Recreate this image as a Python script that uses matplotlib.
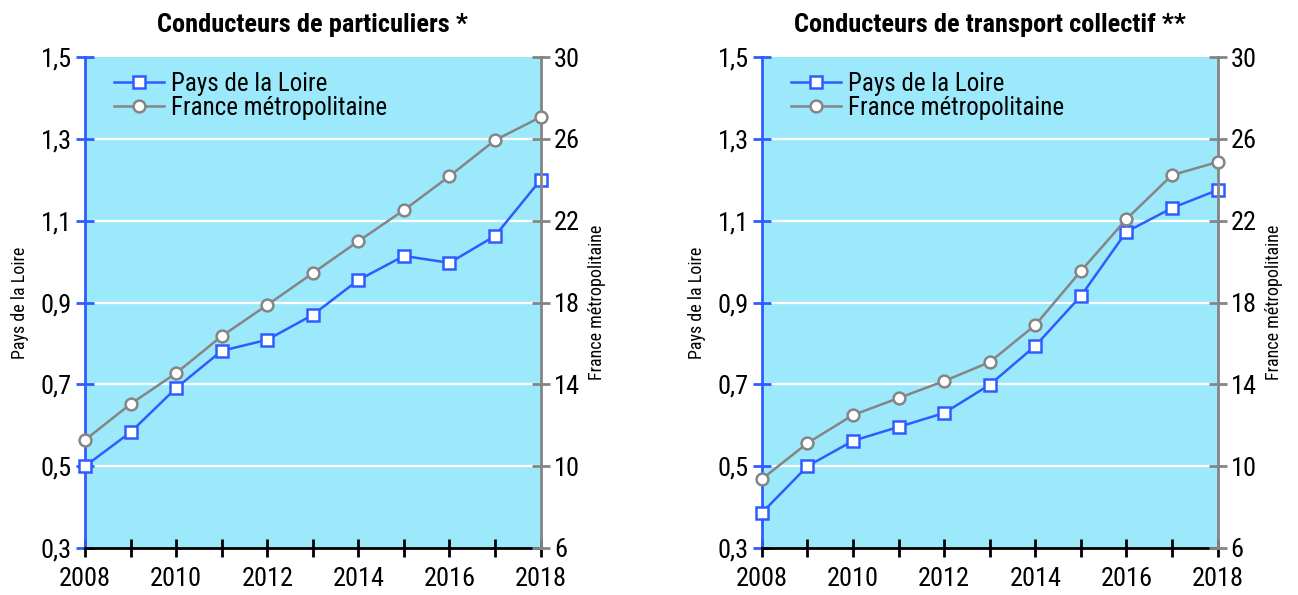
import numpy as np
import matplotlib
matplotlib.use("Agg")
import matplotlib.pyplot as plt

plt.rcParams['font.family'] = ['Roboto Condensed', 'DejaVu Sans']

# data
years = list(range(2008, 2019))
titles = ["Conducteurs de particuliers *", "Conducteurs de transport collectif **"]
pdl_part = [0.500, 0.583, 0.691, 0.782, 0.809, 0.870, 0.955, 1.014, 0.997, 1.063, 1.200]
fr_part = [11.28, 13.04, 14.55, 16.36, 17.88, 19.44, 21.00, 22.52, 24.18, 25.94, 27.07]
pdl_coll = [0.386, 0.500, 0.562, 0.596, 0.630, 0.699, 0.794, 0.916, 1.073, 1.131, 1.175]
fr_coll = [9.37, 11.13, 12.50, 13.33, 14.16, 15.09, 16.90, 19.54, 22.08, 24.23, 24.87]
left_ticks = [0.3, 0.5, 0.7, 0.9, 1.1, 1.3, 1.5]
right_ticks = [6, 10, 14, 18, 22, 26, 30]

blue = "#2f5cff"
grey = "#858585"
bg = "#9de9fc"

fig = plt.figure(figsize=(12.98, 5.95), dpi=100)
lefts = [0.0655, 0.587]
panels = [(pdl_part, fr_part), (pdl_coll, fr_coll)]

for i, (pdl, fr) in enumerate(panels):
    ax = fig.add_axes([lefts[i], 0.079, 0.351, 0.825])
    ax2 = ax.twinx()
    ax.set_facecolor(bg)
    ax.set_xlim(2008, 2018)
    ax.set_ylim(0.3, 1.5)
    ax2.set_ylim(6, 30)

    for y in left_ticks[1:-1]:
        ax.axhline(y, color="white", lw=1.6, zorder=1)

    l1, = ax.plot(years, pdl, color=blue, lw=1.8, marker="s", ms=8.5,
                  mfc="white", mec=blue, mew=1.8, clip_on=False, zorder=5,
                  label="Pays de la Loire")
    l2, = ax2.plot(years, fr, color=grey, lw=1.8, marker="o", ms=8.5,
                   mfc="white", mec=grey, mew=1.8, clip_on=False, zorder=5,
                   label="France métropolitaine")

    ax.set_yticks(left_ticks)
    ax.set_yticklabels([("%.1f" % v).replace(".", ",") for v in left_ticks])
    ax2.set_yticks(right_ticks)
    ax2.set_yticklabels([str(v) for v in right_ticks])
    ax.set_xticks(years)
    ax.set_xticklabels([str(y) if y % 2 == 0 else "" for y in years])

    for s in ["top", "right"]:
        ax.spines[s].set_visible(False)
    ax2.spines["top"].set_visible(False)
    ax2.spines["left"].set_visible(False)
    ax2.spines["bottom"].set_visible(False)
    ax.spines["left"].set_color(blue)
    ax.spines["left"].set_linewidth(2)
    ax2.spines["right"].set_color(grey)
    ax2.spines["right"].set_linewidth(2)
    ax.spines["bottom"].set_color("black")
    ax.spines["bottom"].set_linewidth(2)

    ax.tick_params(axis="y", direction="inout", length=13, width=2, color=blue,
                   labelsize=19, pad=3)
    ax2.tick_params(axis="y", direction="inout", length=13, width=2, color=grey,
                    labelsize=19, pad=3)
    ax.tick_params(axis="x", direction="inout", length=13, width=2, color="black",
                   labelsize=19, pad=7)

    ax.set_ylabel("Pays de la Loire", fontsize=13, labelpad=8)
    ax2.set_ylabel("France métropolitaine", fontsize=13, labelpad=6)
    ax.set_title(titles[i], fontsize=19, fontweight="bold", pad=18)

    ax2.legend([l1, l2], [l1.get_label(), l2.get_label()], loc="upper left",
               frameon=False, fontsize=18, handlelength=2.0, borderaxespad=0.3,
               labelspacing=0.0, handletextpad=0.3, bbox_to_anchor=(0.025, 1.005))

plt.savefig("out.png", dpi=100)
